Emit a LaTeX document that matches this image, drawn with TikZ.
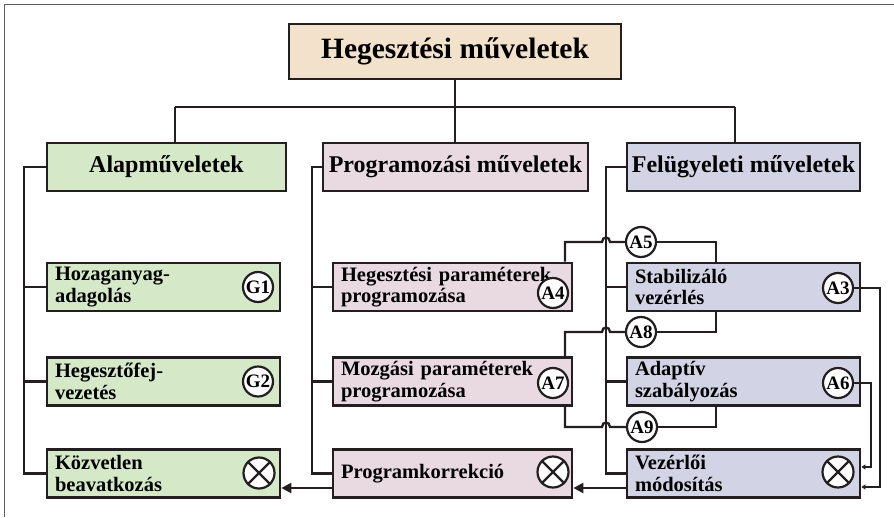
\documentclass[tikz,border=0pt]{standalone}
\usepackage{fontspec}
\setmainfont{Liberation Serif}
\usetikzlibrary{arrows.meta}
\definecolor{ink}{HTML}{231F20}
\definecolor{beige}{HTML}{F2E1CB}
\definecolor{grn}{HTML}{D5E8C7}
\definecolor{pnk}{HTML}{E9DAE2}
\definecolor{lav}{HTML}{D3D3E6}
\definecolor{frm}{HTML}{606060}
\begin{document}
\begin{tikzpicture}[x=1pt,y=-1pt,
 boxbase/.style={draw=ink, line width=2.7pt, inner sep=0pt},
 topbox/.style={boxbase, fill=beige, minimum width=332pt, minimum height=55pt, font=\bfseries\fontsize{29.5}{31}\selectfont},
 lvltwo/.style={boxbase, minimum height=48pt, font=\bfseries\fontsize{24}{26}\selectfont},
 lvlthree/.style={boxbase, minimum height=48pt, inner xsep=8pt, align=left, font=\bfseries\fontsize{20.5}{21.5}\selectfont},
 tag/.style={circle, draw=ink, line width=2.2pt, fill=white, minimum size=30pt, inner sep=0pt, font=\bfseries\fontsize{19}{19}\selectfont},
 xmark/.style={circle, draw=ink, line width=2.2pt, fill=white, minimum size=31pt, inner sep=0pt},
 link/.style={draw=ink, line width=2.3pt},
 bigarrow/.style={link, -{Triangle[length=10pt,width=10pt]}},
 smallarrow/.style={draw=ink, line width=1.8pt, -{Triangle[length=4pt,width=5pt]}},
]
\useasboundingbox (0,0) rectangle (894,517);
\draw[frm, line width=1pt] (4,517) -- (4,4) -- (894,4);

% top and level two
\node[topbox] (top) at (455,51.5) {Hegesztési műveletek};
\node[lvltwo, fill=grn, minimum width=239pt] (alap) at (166.5,167) {Alapműveletek};
\node[lvltwo, fill=pnk, minimum width=265pt] (prog) at (455.5,167) {Programozási műveletek};
\node[lvltwo, fill=lav, minimum width=233pt] (felu) at (743.5,167) {Felügyeleti műveletek};

% level three
\node[lvlthree, fill=grn, text width=217pt] (g1) at (163.5,287) {Hozaganyag-\\adagolás};
\node[lvlthree, fill=grn, text width=217pt] (g2) at (163.5,381.5) {Hegesztőfej-\\vezetés};
\node[lvlthree, fill=grn, text width=217pt] (kozv) at (163.5,473.5) {Közvetlen\\beavatkozás};
\node[lvlthree, fill=pnk, text width=223pt] (hp) at (452.5,287) {Hegesztési paraméterek\\programozása};
\node[lvlthree, fill=pnk, text width=223pt] (mp) at (452.5,381.5) {Mozgási paraméterek\\programozása};
\node[lvlthree, fill=pnk, text width=223pt] (pk) at (452.5,473.5) {Programkorrekció};
\node[lvlthree, fill=lav, text width=217pt] (sv) at (743.5,287) {Stabilizáló\\vezérlés};
\node[lvlthree, fill=lav, text width=217pt] (as) at (743.5,381.5) {Adaptív\\szabályozás};
\node[lvlthree, fill=lav, text width=217pt] (vm) at (743.5,473.5) {Vezérlői\\módosítás};

% tags
\node[tag] (G1) at (258,287) {G1};
\node[tag] (G2) at (258,381.5) {G2};
\node[tag] (A4) at (553,293) {A4};
\node[tag] (A7) at (553,383) {A7};
\node[tag] (A3) at (838,288) {A3};
\node[tag] (A6) at (838,383) {A6};
\node[tag] (A5) at (641,242) {A5};
\node[tag] (A8) at (641,332) {A8};
\node[tag] (A9) at (642,427) {A9};

% crossed circles
\node[xmark] (x1) at (259,473) {};
\node[xmark] (x2) at (553,472) {};
\node[xmark] (x3) at (838,472) {};
\foreach \c in {x1,x2,x3}{
  \draw[ink, line width=2.2pt] (\c.45) -- (\c.225) (\c.135) -- (\c.315);
}

% tree
\coordinate (hub) at (455,107);
\coordinate (tl) at (175,107);
\coordinate (tr) at (735,107);
\draw[link] (top.south) -- (hub);
\draw[link] (tl) -- (tr);
\draw[link] (tl) -- (tl |- alap.north);
\draw[link] (hub) -- (hub |- prog.north);
\draw[link] (tr) -- (tr |- felu.north);

% buses
\coordinate (busA) at (24,167);
\coordinate (busP) at (312,167);
\coordinate (busF) at (606,167);
\draw[link] (alap.west) -- (busA) |- (kozv.west);
\draw[link] (busA |- g1.west) -- (g1.west);
\draw[link] (busA |- g2.west) -- (g2.west);
\draw[link] (prog.west) -- (busP) |- (pk.west);
\draw[link] (busP |- hp.west) -- (hp.west);
\draw[link] (busP |- mp.west) -- (mp.west);
\draw[link] (felu.west) -- (busF) |- (vm.west);
\draw[link] (busF |- sv.west) -- (sv.west);
\draw[link] (busF |- as.west) -- (as.west);

% cross links
\coordinate (hx) at (565,0);
\coordinate (sx) at (716,0);
\draw[link] (hx |- hp.north) -- (hx |- A5) -- ([xshift=-4pt]busF |- A5)
  .. controls +(0,-6) and +(0,-6) .. ([xshift=4pt]busF |- A5) -- (A5.west);
\draw[link] (A5.east) -- (sx |- A5) -- (sx |- sv.north);
\draw[link] (sx |- sv.south) -- (sx |- A8) -- (A8.east);
\draw[link] (A8.west) -- ([xshift=4pt]busF |- A8)
  .. controls +(0,-6) and +(0,-6) .. ([xshift=-4pt]busF |- A8) -- (hx |- A8) -- (hx |- mp.north);
\draw[link] (hx |- mp.south) -- (hx |- A9) -- ([xshift=-4pt]busF |- A9)
  .. controls +(0,-6) and +(0,-6) .. ([xshift=4pt]busF |- A9) -- (A9.west);
\draw[link] (A9.east) -- (sx |- A9) -- (sx |- as.south);

% right feedback arrows
\coordinate (rx1) at (880,0);
\coordinate (rx2) at (871,0);
\coordinate (ya) at (0,487);
\coordinate (yb) at (0,467);
\draw[smallarrow] (A3.east) -- (rx1 |- A3) -- (rx1 |- ya) -- (vm.east |- ya);
\draw[smallarrow] (A6.east) -- (rx2 |- A6) -- (rx2 |- yb) -- (vm.east |- yb);

% bottom arrows
\coordinate (yc) at (0,488);
\draw[bigarrow] (vm.west |- yc) -- (pk.east |- yc);
\draw[bigarrow] (pk.west |- yc) -- (kozv.east |- yc);
\end{tikzpicture}
\end{document}
